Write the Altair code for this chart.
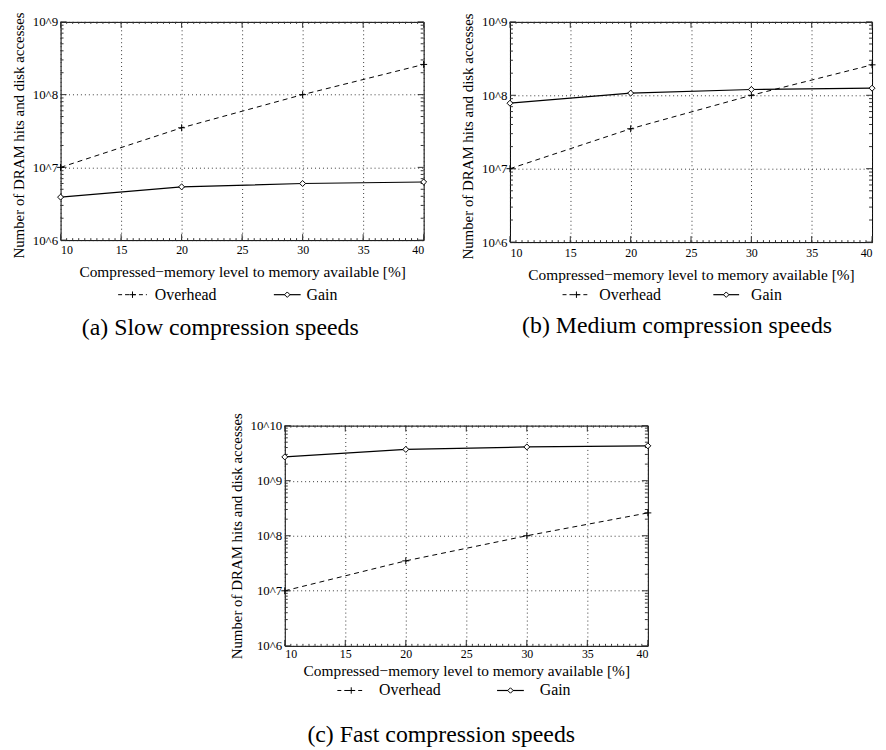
import altair as alt
import pandas as pd

# ---------------- data ----------------
PCT = [10, 20, 30, 40]
OVERHEAD = [1.0e7, 3.5e7, 1.0e8, 2.6e8]
GAIN_SLOW = [3.9e6, 5.4e6, 6.0e6, 6.3e6]
GAIN_MEDIUM = [7.8e7, 1.07e8, 1.2e8, 1.25e8]
GAIN_FAST = [2.7e9, 3.7e9, 4.1e9, 4.3e9]

X_TICKS = [10, 15, 20, 25, 30, 35, 40]
X_MINOR_STEP = 0.5
LOG_MULT = [1, 2, 3, 4, 5, 6, 7, 8, 9]

X_TITLE = "Compressed\u2212memory level to memory available [%]"
Y_TITLE = "Number of DRAM hits and disk accesses"
SERIES = ["Overhead", "Gain"]
CAPTIONS = ["(a) Slow compression speeds", "(b) Medium compression speeds",
            "(c) Fast compression speeds"]

FONT = "Liberation Serif"
PLUS = "M-1,0L1,0M0,-1L0,1"


def panel(gain, top_exp, caption, w, h, leg, xt_pad, xl_pad, ytitle_dy,
          cap_offset, cap_dx):
    df = pd.DataFrame({"pct": PCT, "overhead": OVERHEAD, "gain": gain})
    decades = list(range(6, top_exp + 1))
    ymaj = [10.0 ** d for d in decades]
    yminor = [m * 10.0 ** d for d in decades[:-1] for m in LOG_MULT[1:]]
    xminor = [10 + X_MINOR_STEP * i for i in range(int(30 / X_MINOR_STEP) + 1)]

    xscale = alt.Scale(domain=[10, 40], nice=False, zero=False)
    yscale = alt.Scale(type="log", domain=[1e6, 10.0 ** top_exp], nice=False)

    xaxis = alt.Axis(values=X_TICKS, title=X_TITLE, grid=True, ticks=False,
                     domain=False, labelPadding=xl_pad, titlePadding=xt_pad,
                     format="d")
    yaxis = alt.Axis(values=ymaj, title=Y_TITLE, grid=True, ticks=False,
                     domain=False, labelPadding=3, titlePadding=6,
                     titleY=h / 2 + ytitle_dy,
                     labelExpr="'10^' + round(log(datum.value)/LN10)")

    base = alt.Chart(df)
    over_line = base.mark_line(color="black", strokeWidth=1, strokeDash=[5, 4]).encode(
        x=alt.X("pct:Q", scale=xscale, axis=xaxis),
        y=alt.Y("overhead:Q", scale=yscale, axis=yaxis))
    over_pts = base.mark_point(shape=PLUS, size=49, color="black", strokeWidth=1,
                               filled=False, opacity=1).encode(
        x=alt.X("pct:Q", scale=xscale), y=alt.Y("overhead:Q", scale=yscale))
    gain_line = base.mark_line(color="black", strokeWidth=1.2).encode(
        x=alt.X("pct:Q", scale=xscale), y=alt.Y("gain:Q", scale=yscale))
    gain_pts = base.mark_point(shape="diamond", size=36, fill="white", stroke="black",
                               strokeWidth=1, filled=True, opacity=1).encode(
        x=alt.X("pct:Q", scale=xscale), y=alt.Y("gain:Q", scale=yscale))

    # inward frame ticks
    ymin_df = pd.DataFrame({"v": yminor})
    ymaj_df = pd.DataFrame({"v": ymaj})
    xmin_df = pd.DataFrame({"v": xminor})
    xmaj_df = pd.DataFrame({"v": X_TICKS})
    tk = dict(color="#333", strokeWidth=1)
    ticks = []
    for d, ln in ((ymin_df, 3), (ymaj_df, 6)):
        ticks.append(alt.Chart(d).mark_rule(**tk).encode(
            y=alt.Y("v:Q", scale=yscale), x=alt.value(0), x2=alt.value(ln)))
        ticks.append(alt.Chart(d).mark_rule(**tk).encode(
            y=alt.Y("v:Q", scale=yscale), x=alt.value(w - ln), x2=alt.value(w)))
    for d, ln in ((xmin_df, 2), (xmaj_df, 6)):
        ticks.append(alt.Chart(d).mark_rule(**tk).encode(
            x=alt.X("v:Q", scale=xscale), y=alt.value(0), y2=alt.value(ln)))
        ticks.append(alt.Chart(d).mark_rule(**tk).encode(
            x=alt.X("v:Q", scale=xscale), y=alt.value(h - ln), y2=alt.value(h)))

    # manual legend
    one = alt.Chart(pd.DataFrame({"k": [0]}))
    ly, x0, x1, tx0, g0, g1, tx1 = leg
    legend = [
        one.mark_rule(color="black", strokeWidth=1, strokeDash=[4, 3]).encode(
            x=alt.value(x0), x2=alt.value(x1), y=alt.value(ly)),
        one.mark_point(shape=PLUS, size=42, color="black", strokeWidth=1,
                       filled=False, opacity=1).encode(
            x=alt.value((x0 + x1) / 2), y=alt.value(ly)),
        one.mark_text(align="left", baseline="middle", font=FONT, fontSize=16,
                      color="black").encode(
            x=alt.value(tx0), y=alt.value(ly), text=alt.value(SERIES[0])),
        one.mark_rule(color="black", strokeWidth=1.2).encode(
            x=alt.value(g0), x2=alt.value(g1), y=alt.value(ly)),
        one.mark_point(shape="diamond", size=30, fill="white", stroke="black",
                       strokeWidth=1, filled=True, opacity=1).encode(
            x=alt.value((g0 + g1) / 2), y=alt.value(ly)),
        one.mark_text(align="left", baseline="middle", font=FONT, fontSize=16,
                      color="black").encode(
            x=alt.value(tx1), y=alt.value(ly), text=alt.value(SERIES[1])),
    ]

    return alt.layer(over_line, gain_line, *ticks, over_pts, gain_pts, *legend).properties(
        width=w, height=h,
        title=alt.Title(caption, orient="bottom", anchor="middle", frame="bounds",
                        font=FONT, fontSize=24, fontWeight="normal", color="black",
                        offset=cap_offset, dx=cap_dx))


pa = panel(GAIN_SLOW, 9, CAPTIONS[0], 366, 220,
           (275, 58, 87, 95, 215, 242, 248), 10, 4, 4, 14, 0)
pb = panel(GAIN_MEDIUM, 9, CAPTIONS[1], 365, 222,
           (275, 53, 81, 90, 205, 231, 243), 9, 6, 4, 12, 8)
pc = panel(GAIN_FAST, 10, CAPTIONS[2], 366, 222,
           (267, 53, 81, 95, 214, 241, 257), 4, 3, 0, 25, 0)

chart = alt.vconcat(
    alt.hconcat(pa, pb, spacing=30),
    pc, spacing=71, center=True
).properties(
    padding={"left": 2, "top": 0, "right": 0, "bottom": 0}
).configure_view(
    stroke="black", strokeWidth=1
).configure_axis(
    labelFont=FONT, titleFont=FONT, labelFontSize=13, titleFontSize=15,
    titleFontWeight="normal", labelColor="black", titleColor="black",
    gridColor="#222", gridDash=[1, 3], gridWidth=1, gridOpacity=0.9
).configure_axisX(
    titleFontSize=15.5, labelFontSize=12
)

chart.save("out.html", embed_options={"renderer": "svg", "actions": False})
